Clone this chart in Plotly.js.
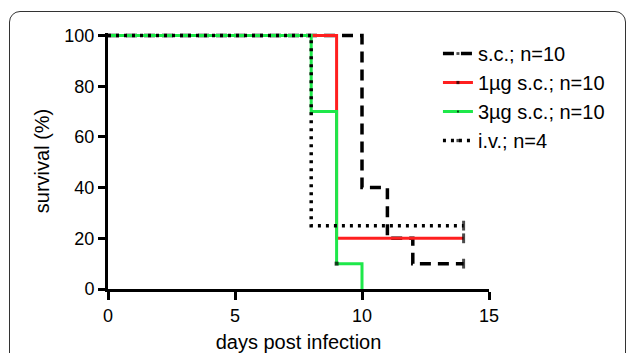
<!DOCTYPE html>
<html>
<head>
<meta charset="utf-8">
<script src="https://cdn.plot.ly/plotly-3.0.1.min.js"></script>
<style>
  html, body { margin: 0; padding: 0; background: #fff; overflow: hidden; }
  #wrap { position: relative; width: 630px; height: 353px; }
  #frame { position: absolute; left: 9px; top: 11px; width: 617px; height: 400px;
           border: 1.5px solid #333; border-radius: 11px; box-sizing: border-box; }
  #chart { position: absolute; left: 0; top: 0; width: 630px; height: 353px; }
</style>
</head>
<body>
<div id="wrap">
  <div id="frame"></div>
  <div id="chart"></div>
</div>
<script>
// Survival data (Kaplan-Meier steps): days and percent survival
const seriesNames = ["s.c.; n=10", "1µg s.c.; n=10", "3µg s.c.; n=10", "i.v.; n=4"];
const scDays   = [0, 10, 11, 12, 14];
const scSurv   = [100, 40, 20, 10, 10];
const ug1Days  = [0, 9, 14];
const ug1Surv  = [100, 20, 20];
const ug3Days  = [0, 8, 9, 10];
const ug3Surv  = [100, 70, 10, 0];
const ivDays   = [0, 8, 14];
const ivSurv   = [100, 25, 25];
const xTicks = [0, 5, 10, 15];
const yTicks = [0, 20, 40, 60, 80, 100];

const font = "Liberation Sans, Arial, sans-serif";

function censor(n, marks, sz) {
  // marker sizes: show a censor tick only at the listed indices
  const s = [];
  for (let i = 0; i < n; i++) s.push(marks.indexOf(i) >= 0 ? sz : 0);
  return s;
}

const traces = [
  { x: scDays, y: scSurv, name: seriesNames[0], legendgroup: "a",
    mode: "lines+markers", line: { shape: "hv", color: "#000", width: 3.5, dash: "11px,7px" },
    marker: { symbol: "line-ns", size: censor(scDays.length, [scDays.length - 1], 7), color: "#000", line: { color: "#000", width: 3 } } },
  { x: ug1Days, y: ug1Surv, name: seriesNames[1], legendgroup: "b",
    mode: "lines+markers", line: { shape: "hv", color: "#ff1f1f", width: 3 },
    marker: { symbol: "line-ns", size: censor(ug1Days.length, [ug1Days.length - 1], 7), color: "#000", line: { color: "#000", width: 3 } } },
  { x: ug3Days, y: ug3Surv, name: seriesNames[2], legendgroup: "c",
    mode: "lines+markers", line: { shape: "hv", color: "#1ee84a", width: 3 },
    marker: { symbol: "square", size: censor(ug3Days.length, [2], 4), color: "#000", line: { width: 0 } } },
  { x: ivDays, y: ivSurv, name: seriesNames[3], legendgroup: "d",
    mode: "lines+markers", line: { shape: "hv", color: "#000", width: 3.5, dash: "3px,5px" },
    marker: { symbol: "line-ns", size: censor(ivDays.length, [ivDays.length - 1], 7), color: "#000", line: { color: "#000", width: 3 } } }
];

const layout = {
  width: 630, height: 353,
  margin: { l: 108, r: 141, t: 32.5, b: 64, pad: 0 },
  paper_bgcolor: "rgba(0,0,0,0)",
  plot_bgcolor: "rgba(0,0,0,0)",
  font: { family: font, color: "#000", size: 18 },
  showlegend: true,
  legend: { x: 0.866, y: 0.996, xanchor: "left", yanchor: "top",
            font: { family: font, size: 20, color: "#000" },
            bgcolor: "rgba(0,0,0,0)", borderwidth: 0, tracegroupgap: 0 },
  xaxis: {
    range: [0, 15], tickvals: xTicks, ticktext: xTicks.map(String),
    showgrid: false, zeroline: false, showline: true, linecolor: "#000", linewidth: 3,
    ticks: "outside", ticklen: 8, tickwidth: 3, tickcolor: "#000",
    tickfont: { family: font, size: 18, color: "#000" },
    title: { text: "days post infection", font: { family: font, size: 20, color: "#000" }, standoff: 20 },
    automargin: false
  },
  yaxis: {
    range: [0, 101], tickvals: yTicks, ticktext: yTicks.map(String),
    showgrid: false, zeroline: false, showline: true, linecolor: "#000", linewidth: 3,
    ticks: "outside", ticklen: 7, tickwidth: 3, tickcolor: "#000",
    tickfont: { family: font, size: 18, color: "#000" },
    title: { text: "survival (%)", font: { family: font, size: 20, color: "#000" }, standoff: 10 },
    automargin: false
  }
};

Plotly.newPlot("chart", traces, layout, { displayModeBar: false, staticPlot: true });
</script>
</body>
</html>
